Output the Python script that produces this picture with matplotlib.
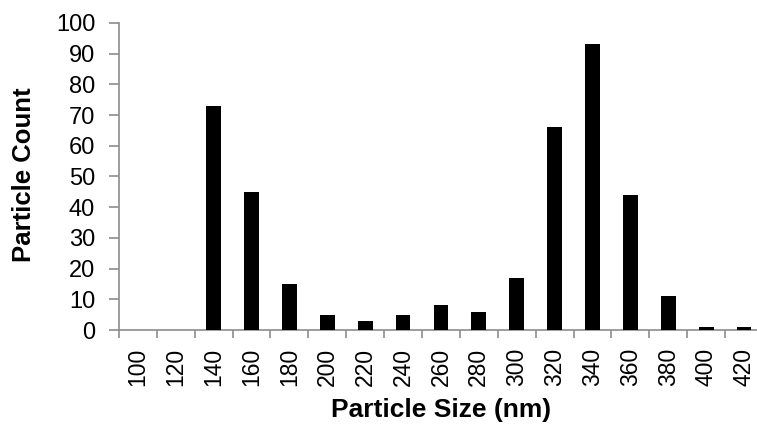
import matplotlib
matplotlib.use("Agg")
import matplotlib.pyplot as plt
import numpy as np

sizes = ["100", "120", "140", "160", "180", "200", "220", "240", "260",
         "280", "300", "320", "340", "360", "380", "400", "420"]
counts = [0, 0, 73, 45, 15, 5, 3, 5, 8, 6, 17, 66, 93, 44, 11, 1, 1]

plt.rcParams['font.family'] = ['Liberation Sans', 'DejaVu Sans']

fig = plt.figure(figsize=(7.57, 4.25), dpi=100)
ax = fig.add_axes([0.157, 0.2235, 0.851, 0.7225])

x = np.arange(len(sizes))
ax.bar(x, counts, width=0.39, color='black', zorder=3)

ax.set_xlim(-0.5, len(sizes) - 0.5)
ax.set_ylim(0, 100)
ax.set_yticks(np.arange(0, 101, 10))
ax.set_xticks(x)
ax.set_xticklabels(sizes, rotation=90)
ax.set_xticks(np.arange(-0.5, len(sizes), 1), minor=True)

gray = '#8c8c8c'
for s in ['top', 'right']:
    ax.spines[s].set_visible(False)
for s in ['left', 'bottom']:
    ax.spines[s].set_color(gray)
    ax.spines[s].set_linewidth(1.2)

ax.tick_params(axis='y', direction='out', length=7, color=gray, width=1.2,
               labelsize=17, pad=10)
ax.tick_params(axis='x', which='major', length=0, labelsize=16.5, pad=13)
ax.tick_params(axis='x', which='minor', direction='out', length=5.5, color=gray, width=1.2)

ax.set_ylabel("Particle Count", fontsize=18.5, fontweight='bold')
ax.set_xlabel("Particle Size (nm)", fontsize=19, fontweight='bold')
ax.yaxis.set_label_coords(-0.147, 0.505)
ax.yaxis.label.set_va('center')
ax.xaxis.set_label_coords(0.5, -0.262)
ax.xaxis.label.set_va('center')

fig.savefig("out.png", dpi=100)
